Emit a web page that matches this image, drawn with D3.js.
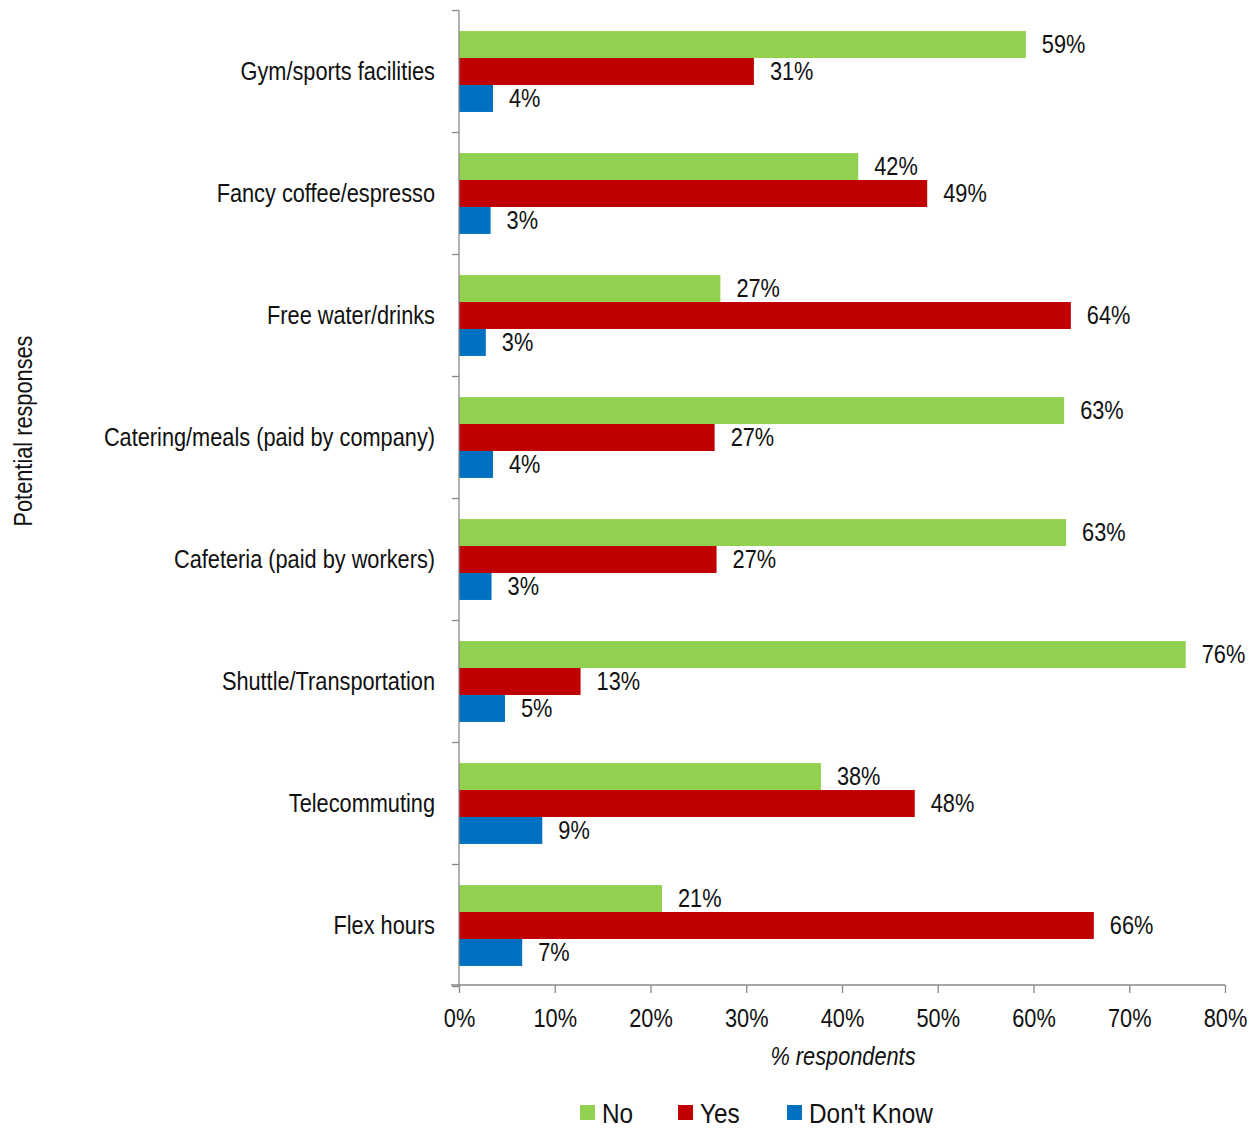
<!DOCTYPE html>
<html><head><meta charset="utf-8">
<script src="https://cdn.jsdelivr.net/npm/d3@7"></script>
<style>
body{margin:0;background:#fff;}
text{font-family:"Liberation Sans",Arial,sans-serif;fill:#111;}
</style></head><body>
<svg id="c" width="1259" height="1129"></svg>
<script>
const categories = ["Gym/sports facilities","Fancy coffee/espresso","Free water/drinks","Catering/meals (paid by company)","Cafeteria (paid by workers)","Shuttle/Transportation","Telecommuting","Flex hours"];
const seriesNames = ["No","Yes","Don't Know"];
const noValues = [59.2,41.7,27.3,63.2,63.4,75.9,37.8,21.2];
const yesValues = [30.8,48.9,63.9,26.7,26.9,12.7,47.6,66.3];
const dkValues = [3.55,3.3,2.8,3.55,3.4,4.8,8.7,6.6];
const noLabels = ["59%","42%","27%","63%","63%","76%","38%","21%"];
const yesLabels = ["31%","49%","64%","27%","27%","13%","48%","66%"];
const dkLabels = ["4%","3%","3%","4%","3%","5%","9%","7%"];
const xTicks = [0,10,20,30,40,50,60,70,80];
const colors = ["#92D050","#C00000","#0070C0"];

const series = [noValues, yesValues, dkValues];
const labels = [noLabels, yesLabels, dkLabels];
const SX = 0.87;

const svg = d3.select("#c");
function txt(g, px, py, str, size, anchor, rot){
  const t = g.append("text")
    .attr("transform",`translate(${px},${py})${rot?` rotate(${rot})`:""} scale(${SX},1)`)
    .attr("dy","0.35em").attr("font-size",size).attr("text-anchor",anchor||"start").text(str);
  return t;
}
const pL = 459, pR = 1225, pT = 10.5, pB = 986.5;
const x = d3.scaleLinear().domain([0,80]).range([pL,pR]);
const y = d3.scaleBand().domain(categories).range([pT,pB]).paddingInner(0.337).paddingOuter(0.1685);
const inner = d3.scaleBand().domain(seriesNames).range([0,y.bandwidth()]);

// bars
categories.forEach((c,i)=>{
  seriesNames.forEach((s,j)=>{
    svg.append("rect").attr("x",x(0)).attr("y",y(c)+inner(s))
      .attr("width",x(series[j][i])-x(0)).attr("height",inner.bandwidth())
      .attr("fill",colors[j]);
    txt(svg, x(series[j][i])+16, y(c)+inner(s)+inner.bandwidth()/2, labels[j][i], 25);
  });
});

// y axis
const yb = d3.scaleBand().domain(categories).range([pT,pB]);
const gy = svg.append("g");
gy.append("line").attr("x1",pL).attr("x2",pL).attr("y1",pT).attr("y2",pB).attr("stroke","#898989").attr("stroke-width",1.3);
const bounds = d3.range(categories.length+1).map(k=>pT+k*yb.step());
bounds.forEach(b=>gy.append("line").attr("x1",pL-7).attr("x2",pL).attr("y1",b).attr("y2",b).attr("stroke","#898989").attr("stroke-width",1.3));
categories.forEach(c=>{
  txt(gy, 435, yb(c)+yb.bandwidth()/2, c, 25, "end");
});

// x axis
const gx = svg.append("g").attr("transform",`translate(0,${pB-1.5})`)
  .call(d3.axisBottom(x).tickValues(xTicks).tickFormat(d=>d+"%").tickSize(8).tickSizeOuter(0));
gx.select(".domain").attr("stroke","#898989").attr("stroke-width",1.3).attr("d",`M${pL-8},0H${pR}`);
gx.selectAll(".tick line").attr("stroke","#898989").attr("stroke-width",1.3);
gx.selectAll(".tick text").remove();
gx.selectAll(".tick").each(function(d){
  txt(d3.select(this), 0, 33, d+"%", 25, "middle");
});

// titles
txt(svg, 843, 1056, "% respondents", 25, "middle").attr("font-style","italic");
txt(svg, 23, 431, "Potential responses", 25, "middle", -90);

// legend
const legX = [580,678,787];
seriesNames.forEach((s,j)=>{
  svg.append("rect").attr("x",legX[j]).attr("y",1105).attr("width",15).attr("height",15).attr("fill",colors[j]);
  txt(svg, legX[j]+22, 1113, s, 28);
});
</script>
</body></html>
